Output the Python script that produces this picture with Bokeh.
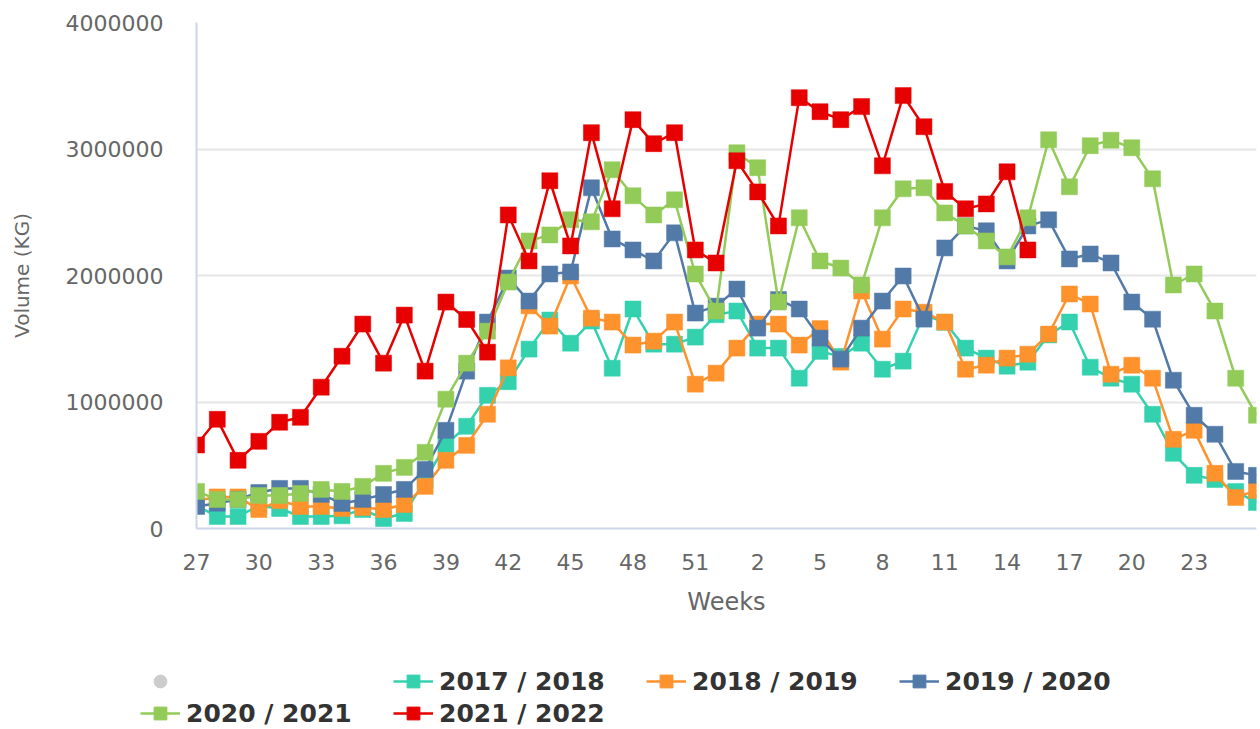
from bokeh.plotting import figure
from bokeh.layouts import column
from bokeh.models import Range1d, FixedTicker, Legend, LegendItem
from bokeh.embed import file_html
from bokeh.resources import INLINE

weeks = ["27", "28", "29", "30", "31", "32", "33", "34", "35", "36", "37", "38", "39",
         "40", "41", "42", "43", "44", "45", "46", "47", "48", "49", "50", "51", "52",
         "1", "2", "3", "4", "5", "6", "7", "8", "9", "10", "11", "12", "13",
         "14", "15", "16", "17", "18", "19", "20", "21", "22", "23", "24", "25", "26"]

y_ticks = [0, 1000000, 2000000, 3000000, 4000000]
y_tick_labels = ["0", "1000000", "2000000", "3000000", "4000000"]

s2017_2018 = [180000, 95000, 95000, 180000, 158000, 95000, 95000, 100000, 150000, 79000,
              119000, 380000, 665000, 808000, 1053000, 1160000, 1418000, 1648000, 1465000, 1640000,
              1267000, 1735000, 1457000, 1457000, 1513000, 1690000, 1719000, 1426000, 1426000, 1188000,
              1400000, 1360000, 1465000, 1259000, 1323000, 1690000, 1630000, 1426000, 1347000, 1283000,
              1315000, 1530000, 1632000, 1275000, 1188000, 1141000, 903000, 594000, 420000, 388000,
              293000, 206000]
s2018_2019 = [220000, 250000, 250000, 150000, 220000, 174000, 174000, 158000, 166000, 150000,
              190000, 333000, 539000, 657000, 903000, 1270000, 1760000, 1600000, 1996000, 1663000,
              1632000, 1450000, 1481000, 1632000, 1141000, 1228000, 1426000, 1616000, 1616000, 1450000,
              1580000, 1315000, 1877000, 1497000, 1735000, 1710000, 1632000, 1259000, 1291000, 1347000,
              1378000, 1537000, 1854000, 1774000, 1220000, 1291000, 1188000, 705000, 776000, 436000,
              246000, 301000]
s2019_2020 = [174000, 200000, 230000, 285000, 317000, 317000, 270000, 198000, 230000, 269000,
              309000, 467000, 776000, 1244000, 1632000, 1980000, 1798000, 2012000, 2028000, 2693000,
              2289000, 2202000, 2115000, 2337000, 1703000, 1758000, 1893000, 1584000, 1810000, 1735000,
              1505000, 1339000, 1584000, 1798000, 1996000, 1655000, 2218000, 2392000, 2353000, 2115000,
              2392000, 2440000, 2131000, 2170000, 2099000, 1790000, 1655000, 1172000, 895000, 745000,
              451000, 420000]
s2020_2021 = [293000, 230000, 230000, 261000, 261000, 277000, 309000, 293000, 333000, 436000,
              483000, 602000, 1022000, 1307000, 1560000, 1948000, 2273000, 2321000, 2440000, 2424000,
              2836000, 2630000, 2479000, 2598000, 2012000, 1719000, 2970000, 2852000, 1790000, 2456000,
              2115000, 2059000, 1925000, 2456000, 2685000, 2693000, 2495000, 2392000, 2273000, 2147000,
              2456000, 3073000, 2701000, 3026000, 3070000, 3010000, 2764000, 1925000, 2012000, 1719000,
              1188000, 895000]
s2021_2022 = [660000, 863000, 539000, 689000, 840000, 879000, 1117000, 1362000, 1616000, 1307000,
              1687000, 1244000, 1790000, 1652000, 1394000, 2479000, 2115000, 2749000, 2234000, 3129000,
              2527000, 3232000, 3042000, 3129000, 2202000, 2099000, 2907000, 2661000, 2392000, 3406000,
              3295000, 3232000, 3335000, 2867000, 3422000, 3176000, 2665000, 2527000, 2566000, 2820000,
              2202000, None, None, None, None, None, None, None, None, None,
              None, None]

series_names = ["2017 / 2018", "2018 / 2019", "2019 / 2020", "2020 / 2021", "2021 / 2022"]
series_values = [s2017_2018, s2018_2019, s2019_2020, s2020_2021, s2021_2022]
series_colors = ["#33d1ae", "#fe922c", "#527aa8", "#93cb59", "#e60000"]

FONT = "DejaVu Sans"
NAN = float("nan")

fig = figure(width=1260, height=618, output_backend="svg", toolbar_location=None,
             x_range=Range1d(0, len(weeks) - 1), y_range=Range1d(0, 4000000),
             min_border_left=196, min_border_right=4, min_border_top=22, min_border_bottom=90)
fig.outline_line_color = None
fig.frame_align = False

xs = list(range(len(weeks)))
x_tick_idx = xs[0:len(weeks) - 2:3]
fig.xaxis.ticker = FixedTicker(ticks=x_tick_idx)
fig.xaxis.major_label_overrides = {i: weeks[i] for i in x_tick_idx}
fig.yaxis.ticker = FixedTicker(ticks=y_ticks)
fig.yaxis.major_label_overrides = {t: l for t, l in zip(y_ticks, y_tick_labels)}

for ax in (fig.xaxis, fig.yaxis):
    ax.major_tick_line_color = None
    ax.minor_tick_line_color = None
    ax.axis_line_color = "#ccd6eb"
    ax.axis_line_width = 2
    ax.major_label_text_font = FONT
    ax.major_label_text_font_size = "22px"
    ax.major_label_text_color = "#666666"
    ax.axis_label_text_font = FONT
    ax.axis_label_text_color = "#666666"
    ax.axis_label_text_font_style = "normal"

fig.xaxis.axis_label = "Weeks"
fig.yaxis.axis_label = "Volume (KG)"
fig.xaxis.axis_label_text_font_size = "24px"
fig.yaxis.axis_label_text_font_size = "20px"
fig.xaxis.major_label_standoff = 19
fig.xaxis.axis_label_standoff = 15
fig.yaxis.major_label_standoff = 27
fig.yaxis.axis_label_standoff = 29

fig.xgrid.grid_line_color = None
fig.ygrid.grid_line_color = "#e6e6e6"
fig.ygrid.grid_line_width = 2

for vals, col in zip(series_values, series_colors):
    ys = [NAN if v is None else v for v in vals]
    fig.line(xs, ys, line_color=col, line_width=2.5)
    fig.scatter(xs, ys, marker="square", size=16, fill_color=col, line_color=col, line_width=0.5)

# legend panel
leg = figure(width=1260, height=111, output_backend="svg", toolbar_location=None,
             x_range=Range1d(0, 1), y_range=Range1d(0, 1), x_axis_type=None, y_axis_type=None,
             min_border_left=0, min_border_right=0, min_border_top=0, min_border_bottom=0)
leg.outline_line_color = None
leg.xgrid.grid_line_color = None
leg.ygrid.grid_line_color = None
leg.frame_align = False

items = []
blank = leg.scatter(x=[NAN], y=[NAN], marker="circle", size=24, color="#cccccc")
items.append(LegendItem(label=" ", renderers=[blank]))
for name, col in zip(series_names, series_colors):
    ln = leg.line([NAN, NAN], [NAN, NAN], line_color=col, line_width=2.5)
    sc = leg.scatter([NAN], [NAN], marker="square", size=16, fill_color=col, line_color=col)
    items.append(LegendItem(label=name, renderers=[ln, sc]))

legend = Legend(items=items, orientation="horizontal", ncols=4, location=(140, 0),
                label_text_font=FONT, label_text_font_size="25px", label_text_font_style="bold",
                label_text_color="#333333", glyph_width=40, glyph_height=32, label_standoff=6,
                label_width=207, label_height=28, spacing=0, padding=0, margin=0,
                border_line_color=None, background_fill_alpha=0)
leg.add_layout(legend, "center")

p = column(fig, leg, spacing=0)

open("out.html", "w").write(file_html(p, INLINE))
